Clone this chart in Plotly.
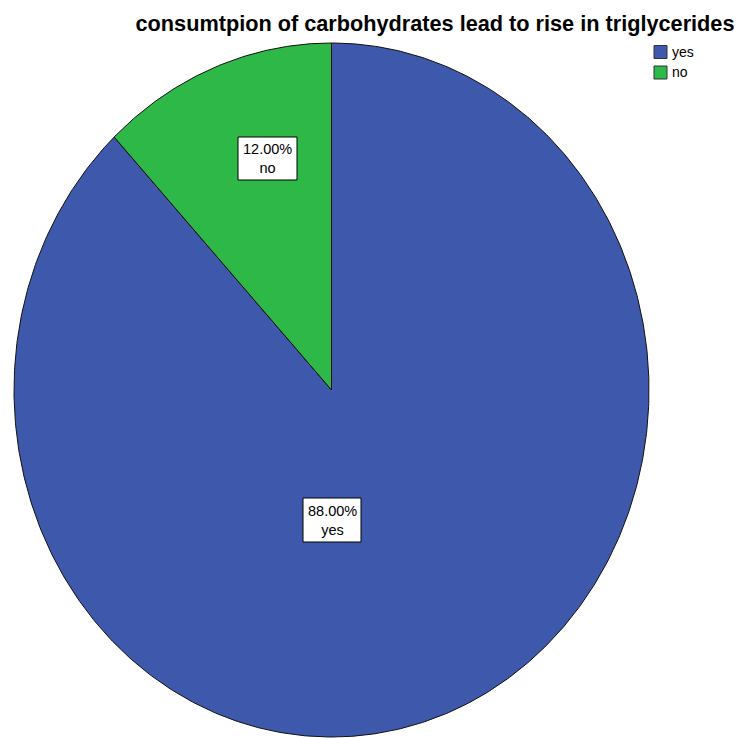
import numpy as np
import plotly.graph_objects as go

# Survey answers and their shares (percent)
categories = ["yes", "no"]
percents = [88.0, 12.0]
colors = ["#3E58AC", "#2EB848"]
title_text = "consumtpion of carbohydrates lead to rise in triglycerides"

W, H = 742, 738
# ellipse geometry in pixels (pie is drawn as an ellipse, clockwise from 12 o'clock)
CX, CY, RX, RY = 331.5, 390.0, 317.5, 347.0
FONT = "Liberation Sans, Arial"


def to_x(px):
    return (px - CX) / RX


def to_y(py):
    return (CY - py) / RY


fig = go.Figure()

# slices: "yes" starts at 12 o'clock going clockwise, "no" fills the rest
total = sum(percents)
fr = [p / total for p in percents]
starts = [0.0, fr[0]]
for cat, f, s, col in zip(categories, fr, starts, colors):
    n = max(int(f * 720), 8)
    th = np.linspace(s, s + f, n) * 2 * np.pi
    xs = np.concatenate([[0.0], np.sin(th), [0.0]])
    ys = np.concatenate([[0.0], np.cos(th), [0.0]])
    fig.add_trace(go.Scatter(
        x=xs, y=ys, mode="lines", fill="toself", fillcolor=col,
        line=dict(color="#111111", width=1), name=cat, showlegend=False,
        hoverinfo="skip"))

# value labels inside slices: white box with percent and category
label_box = {"no": (238, 137, 297, 180), "yes": (303, 498, 361, 542)}
for cat, p in zip(categories, percents):
    x0, y0, x1, y1 = label_box[cat]
    cx, cy = (x0 + x1) / 2, (y0 + y1) / 2
    fig.add_shape(type="rect", xref="x", yref="y",
                  x0=to_x(x0), x1=to_x(x1), y0=to_y(y0), y1=to_y(y1),
                  fillcolor="#FFFFFF", line=dict(color="#000000", width=1))
    fig.add_annotation(
        x=to_x(cx), y=to_y(cy), xref="x", yref="y",
        text=f"{p:.2f}%<br>{cat}", showarrow=False,
        xanchor="center", yanchor="middle", borderpad=0,
        font=dict(family=FONT, size=14.5, color="#000000"))

# legend drawn by hand: small swatches with labels
leg_y = [52.0, 72.5]
for cat, col, ly in zip(categories, colors, leg_y):
    fig.add_shape(type="rect", xref="paper", yref="paper",
                  x0=654 / W, x1=667 / W, y0=1 - (ly - 6.5) / H, y1=1 - (ly + 6.5) / H,
                  fillcolor=col, line=dict(color="#333333", width=1))
    fig.add_annotation(x=670 / W, y=1 - ly / H, xref="paper", yref="paper",
                       text=cat, showarrow=False, xanchor="left", yanchor="middle",
                       font=dict(family=FONT, size=14, color="#000000"))

fig.update_layout(
    width=W, height=H,
    margin=dict(l=0, r=0, t=0, b=0),
    paper_bgcolor="#FFFFFF", plot_bgcolor="#FFFFFF",
    showlegend=False,
    title=dict(text=f"<b>{title_text}</b>", x=435 / W, xanchor="center",
               y=1 - 23 / H, yanchor="middle",
               font=dict(family=FONT, size=21.7, color="#000000")),
    xaxis=dict(range=[-CX / RX, (W - CX) / RX], visible=False, fixedrange=True),
    yaxis=dict(range=[(CY - H) / RY, CY / RY], visible=False, fixedrange=True),
)

fig.write_html("out.html")
